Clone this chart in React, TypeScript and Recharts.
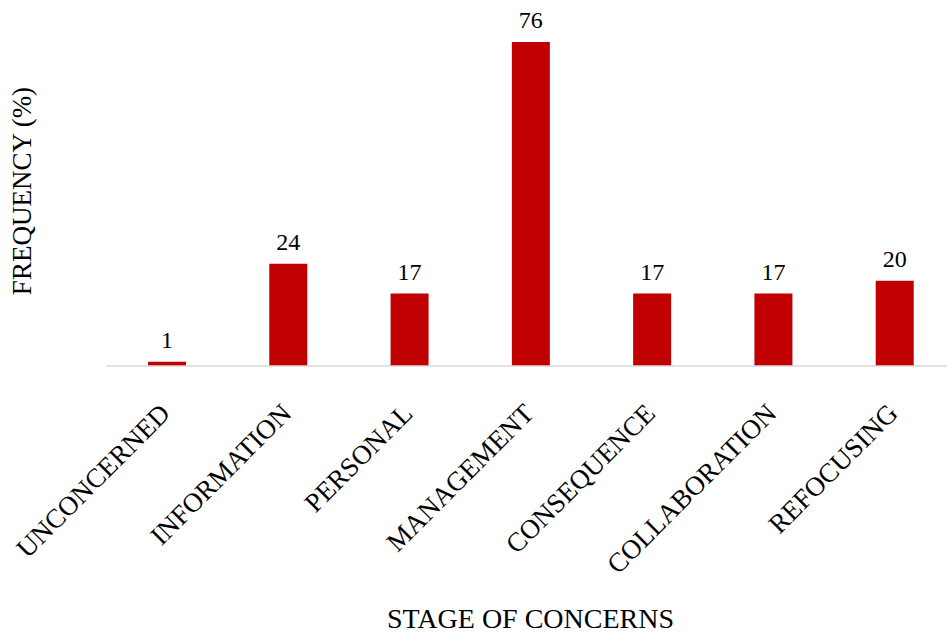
import { Bar, BarChart, LabelList, XAxis, YAxis } from "recharts";

const stages = [
  "UNCONCERNED",
  "INFORMATION",
  "PERSONAL",
  "MANAGEMENT",
  "CONSEQUENCE",
  "COLLABORATION",
  "REFOCUSING",
];
const frequency = [1, 24, 17, 76, 17, 17, 20];

const FONT = '"Liberation Serif", "Times New Roman", serif';

const data = stages.map((stage, i) => ({ stage, value: frequency[i] }));

function StageTick({ x, y, payload }: any) {
  return (
    <text
      x={x + 5}
      y={y + 49}
      transform={`rotate(-45, ${x + 5}, ${y + 49})`}
      textAnchor="end"
      fontFamily={FONT}
      fontSize={27}
      fill="#000"
    >
      {payload.value}
    </text>
  );
}

function YTitle({ viewBox }: any) {
  const cx = 22;
  const cy = viewBox.y + viewBox.height / 2 - 13;
  return (
    <text
      x={cx}
      y={cy}
      transform={`rotate(-90, ${cx}, ${cy})`}
      textAnchor="middle"
      dominantBaseline="central"
      fontFamily={FONT}
      fontSize={27}
      fill="#000"
    >
      FREQUENCY (%)
    </text>
  );
}

function XTitle({ viewBox }: any) {
  return (
    <text
      x={viewBox.x + viewBox.width / 2}
      y={viewBox.y + viewBox.height - 6}
      textAnchor="middle"
      fontFamily={FONT}
      fontSize={28}
      fill="#000"
    >
      STAGE OF CONCERNS
    </text>
  );
}

export default function App() {
  return (
    <div style={{ width: 947, height: 634, overflow: "hidden", fontFamily: FONT }}>
      <style>{"body{margin:0}"}</style>
      <BarChart
        width={960}
        height={634}
        data={data}
        margin={{ top: 42, right: 5, bottom: 0, left: 0 }}
      >
        <XAxis
          dataKey="stage"
          interval={0}
          tickLine={false}
          tickSize={0}
          tickMargin={0}
          axisLine={{ stroke: "#D9D9D9", strokeWidth: 1.5 }}
          height={268}
          tick={<StageTick />}
          label={{ content: <XTitle /> }}
        />
        <YAxis
          domain={[0, 76]}
          tick={false}
          tickLine={false}
          axisLine={false}
          width={106}
          label={{ content: <YTitle /> }}
        />
        <Bar dataKey="value" fill="#C00000" barSize={38} isAnimationActive={false}>
          <LabelList
            dataKey="value"
            position="top"
            offset={14}
            style={{ fontFamily: FONT, fontSize: 24, fill: "#000" }}
          />
        </Bar>
      </BarChart>
    </div>
  );
}
